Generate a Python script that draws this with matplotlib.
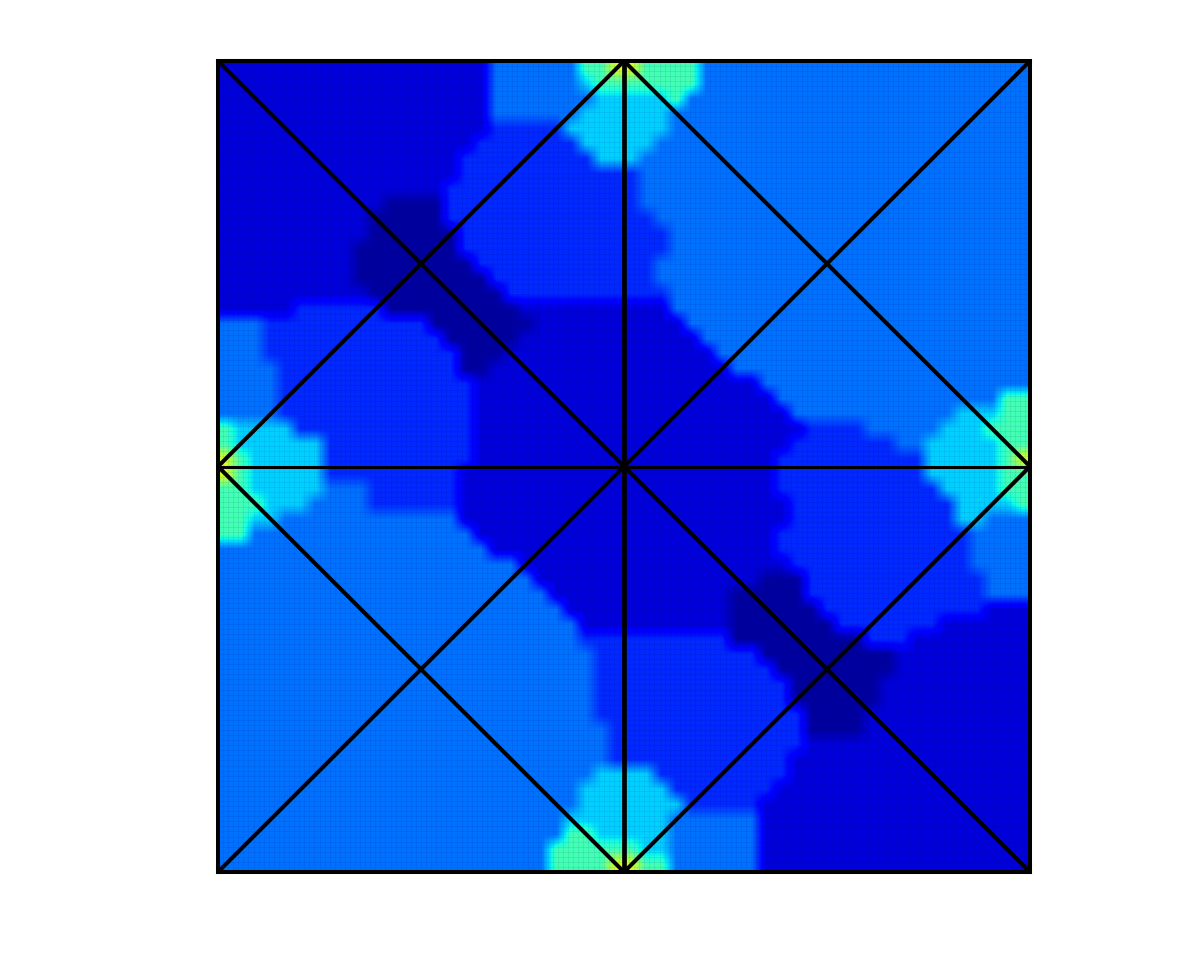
#!/usr/bin/env python3
import numpy as np
import matplotlib
matplotlib.use("Agg")
import matplotlib.pyplot as plt

# jet position of each band seen in the picture: navy, blue, mid, light, cyan, green, yellow
LEVELS = [0.03, 0.08, 0.165, 0.235, 0.33, 0.43, 0.62]

# one row per line from the top, each "level:end column"
ROWS = [
    "1:18 3:24 5:26 6:28 5:32 3:54",
    "1:18 3:24 4:25 5:32 3:54",
    "1:18 3:25 4:30 5:31 3:54",
    "1:18 3:24 4:30 3:54",
    "1:18 2:23 4:30 3:54",
    "1:17 2:24 4:29 3:54",
    "1:16 2:25 4:28 3:54",
    "1:16 2:28 3:54",
    "1:15 2:28 3:54",
    "1:11 0:15 2:28 3:54",
    "1:10 0:15 2:29 3:54",
    "1:10 0:16 2:30 3:54",
    "1:9 0:16 2:30 3:54",
    "1:9 0:17 2:29 3:54",
    "1:9 0:18 2:29 3:54",
    "1:10 0:19 2:30 3:54",
    "1:5 2:11 0:20 1:30 3:54",
    "3:3 2:14 0:21 1:31 3:54",
    "3:3 2:15 0:20 1:32 3:54",
    "3:3 2:16 0:19 1:33 3:54",
    "3:4 2:16 0:18 1:34 3:54",
    "3:4 2:17 1:36 3:54",
    "3:4 2:17 1:37 3:52 5:54",
    "3:4 2:17 1:38 3:49 4:52 5:54",
    "5:1 4:5 2:17 1:39 2:43 3:48 4:51 5:54",
    "5:1 4:7 2:17 1:38 2:45 3:47 4:52 5:54",
    "6:1 5:2 4:7 2:17 1:37 2:47 4:52 5:53 6:54",
    "6:1 5:2 4:7 2:16 1:37 2:47 4:52 5:54",
    "5:2 4:7 3:10 2:16 1:37 2:48 4:52 5:54",
    "5:3 4:6 3:10 2:16 1:38 2:49 4:53 5:54",
    "5:2 4:4 3:16 1:38 2:49 4:51 3:54",
    "5:2 3:17 1:37 2:50 3:54",
    "3:18 1:37 2:50 3:54",
    "3:20 1:38 2:50 3:54",
    "3:21 1:36 0:39 2:51 3:54",
    "3:22 1:34 0:39 2:51 3:54",
    "3:23 1:34 0:40 2:51 1:54",
    "3:24 1:34 0:41 2:48 1:54",
    "3:24 2:34 0:43 2:46 1:54",
    "3:25 2:36 0:45 1:54",
    "3:25 2:37 0:45 1:54",
    "3:25 2:38 0:44 1:54",
    "3:25 2:38 0:44 1:54",
    "3:25 2:39 0:43 1:54",
    "3:26 2:39 0:43 1:54",
    "3:26 2:39 1:54",
    "3:26 2:38 1:54",
    "3:25 4:29 2:38 1:54",
    "3:24 4:30 2:37 1:54",
    "3:24 4:31 2:36 1:54",
    "3:23 4:30 3:36 1:54",
    "3:23 5:25 4:30 3:36 1:54",
    "3:22 5:28 4:30 3:36 1:54",
    "3:22 5:26 6:28 5:30 3:36 1:54",
]

# overlaid line segments: x0, x1, y0, y1
DIAGONALS = [
    (0, 1, 1, 0), (0, 1, 0, 1),
    (0, 0.5, 0.5, 1), (0.5, 1, 1, 0.5),
    (0, 0.5, 0.5, 0), (0.5, 1, 0, 0.5),
]

def decode(row):
    out, start = [], 0
    for part in row.split():
        lev, end = part.split(":")
        out += [LEVELS[int(lev)]] * (int(end) - start)
        start = int(end)
    return out

grid = np.array([decode(r) for r in ROWS])

fig = plt.figure(figsize=(11.96, 9.70), dpi=100)
ax = fig.add_axes([218 / 1196, 1 - 873 / 970, 812 / 1196, 811 / 970])
ax.imshow(grid, cmap="jet", vmin=0, vmax=1, extent=(0, 1, 0, 1),
          origin="upper", interpolation="bilinear", aspect="auto")

# fine lattice of the underlying mesh
mesh = np.linspace(0, 1, 161)
ax.vlines(mesh, 0, 1, color="#000060", lw=0.5, alpha=0.10)
ax.hlines(mesh, 0, 1, color="#000060", lw=0.5, alpha=0.10)

for x0, x1, y0, y1 in DIAGONALS:
    ax.plot([x0, x1], [y0, y1], color="black", lw=2.9, solid_capstyle="butt")
ax.plot([0.5, 0.5], [0, 1], color="black", lw=3.4)
ax.plot([0, 1], [0.5, 0.5], color="black", lw=2.2)

ax.set_xlim(0, 1)
ax.set_ylim(0, 1)
ax.set_xticks([])
ax.set_yticks([])
for s in ax.spines.values():
    s.set_linewidth(2.9)
    s.set_color("black")

fig.savefig("out.png", dpi=100)
